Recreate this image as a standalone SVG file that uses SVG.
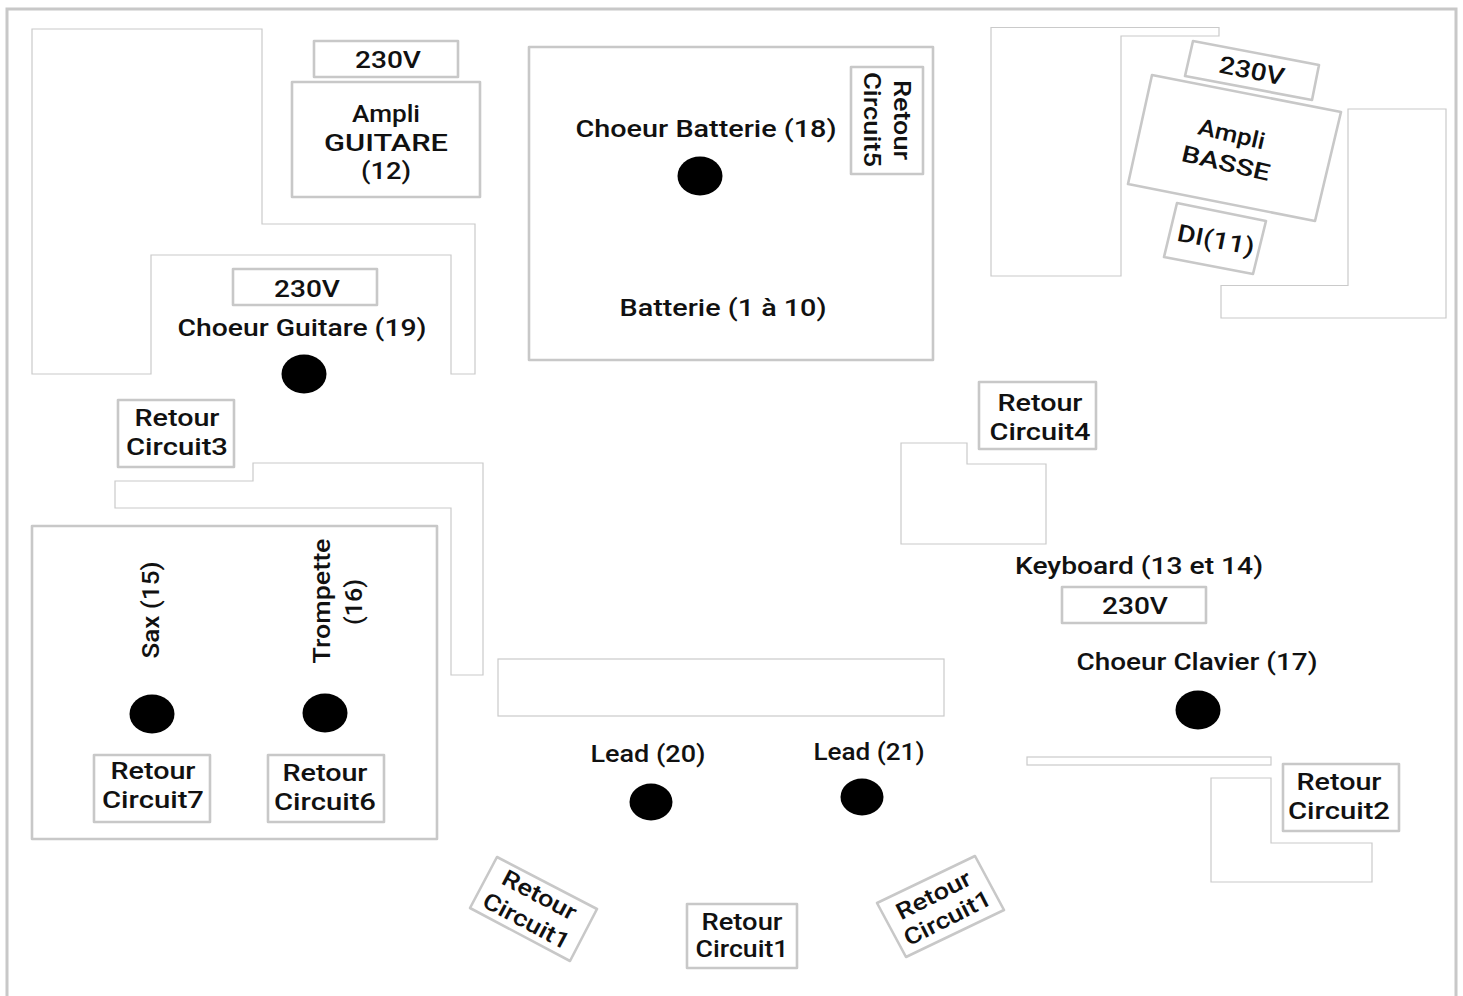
<svg xmlns="http://www.w3.org/2000/svg" width="1463" height="996" viewBox="0 0 1463 996">
<style>
.b{fill:#fff;stroke:#c8c8c8;stroke-width:2.600;stroke-linejoin:round}
.t{fill:none;stroke:#cacaca;stroke-width:1.200}
.d{fill:#000}
text{font-family:Roboto,"Liberation Sans",sans-serif;font-weight:500;font-size:24px;fill:#111;text-anchor:middle}
.s{font-size:23px}
</style>
<rect width="1463" height="996" fill="#fff"/>
<path d="M7 996V9H1456V996" fill="none" stroke="#c8c8c8" stroke-width="3"/>
<g id="walls">
<path class="t" d="M32 29H262V224H475V374H451V255H151V374H32Z"/>
<path class="t" d="M991 27.500H1219V36H1121V276H991Z"/>
<path class="t" d="M1348 109H1446V318H1221V285.500H1348Z"/>
<path class="t" d="M115 481H253V463H483V675H451V508H115Z"/>
<path class="t" d="M901 443H967V464H1046V544H901Z"/>
<rect class="t" x="498" y="659" width="446" height="57"/>
<rect class="t" x="1027" y="757" width="244" height="8"/>
<path class="t" d="M1211 778H1271V843H1372V882H1211Z"/>
</g>
<g id="connectors"></g>
<g id="n-230v-guitare"><rect class="b" x="314" y="41" width="144" height="36"/><text x="388" y="68" textLength="66" lengthAdjust="spacingAndGlyphs">230V</text></g>
<g id="n-ampli-guitare"><rect class="b" x="292" y="82" width="188" height="115"/><text x="386" y="122" textLength="68" lengthAdjust="spacingAndGlyphs">Ampli</text><text x="386" y="151" textLength="124" lengthAdjust="spacingAndGlyphs">GUITARE</text><text x="386" y="179" textLength="50" lengthAdjust="spacingAndGlyphs">(12)</text></g>
<g id="n-batterie"><rect class="b" x="529" y="47" width="404" height="313"/><text x="706" y="137" textLength="261" lengthAdjust="spacingAndGlyphs">Choeur Batterie (18)</text><ellipse class="d" cx="700" cy="176" rx="22.500" ry="19.500"/><text x="723" y="316" textLength="207" lengthAdjust="spacingAndGlyphs">Batterie (1 à 10)</text></g>
<g id="n-retour5"><rect class="b" x="851" y="67" width="72" height="107"/><text class="s" transform="translate(894 120) rotate(90)" textLength="80" lengthAdjust="spacingAndGlyphs">Retour</text><text class="s" transform="translate(864 119.500) rotate(90)" textLength="95" lengthAdjust="spacingAndGlyphs">Circuit5</text></g>
<g id="n-230v-basse"><polygon class="b" points="1193,41 1319,65 1312,100 1185,76"/><text transform="translate(1252 70) rotate(11.500)" y="9" textLength="66" lengthAdjust="spacingAndGlyphs">230V</text></g>
<g id="n-ampli-basse"><polygon class="b" points="1152,75 1341,112 1315,221 1128,184"/><text class="s" transform="translate(1232 133) rotate(13)" y="9" textLength="68" lengthAdjust="spacingAndGlyphs">Ampli</text><text class="s" transform="translate(1226 162) rotate(13)" y="9" textLength="90" lengthAdjust="spacingAndGlyphs">BASSE</text></g>
<g id="n-di"><polygon class="b" points="1177,203 1266,221 1253,274 1164,257"/><text transform="translate(1216 239) rotate(11)" y="9" textLength="78" lengthAdjust="spacingAndGlyphs">DI(11)</text></g>
<g id="n-230v-choeur-guitare"><rect class="b" x="233" y="269" width="144" height="36"/><text x="307" y="297" textLength="66" lengthAdjust="spacingAndGlyphs">230V</text></g>
<g id="n-choeur-guitare"><text x="302" y="336" textLength="249" lengthAdjust="spacingAndGlyphs">Choeur Guitare (19)</text><ellipse class="d" cx="304" cy="374" rx="22.500" ry="19.500"/></g>
<g id="n-retour3"><rect class="b" x="118" y="400" width="116" height="67"/><text x="177" y="426" textLength="85" lengthAdjust="spacingAndGlyphs">Retour</text><text x="177" y="455" textLength="102" lengthAdjust="spacingAndGlyphs">Circuit3</text></g>
<g id="n-cuivres"><rect class="b" x="32" y="526" width="405" height="313"/><text transform="translate(159 610) rotate(-90)" textLength="97" lengthAdjust="spacingAndGlyphs">Sax (15)</text><text transform="translate(330 601) rotate(-90)" textLength="125" lengthAdjust="spacingAndGlyphs">Trompette</text><text transform="translate(362 602) rotate(-90)" textLength="46" lengthAdjust="spacingAndGlyphs">(16)</text><ellipse class="d" cx="152" cy="714" rx="22.500" ry="19.500"/><ellipse class="d" cx="325" cy="713" rx="22.500" ry="19.500"/></g>
<g id="n-retour7"><rect class="b" x="94" y="755" width="116" height="67"/><text x="153" y="779" textLength="85" lengthAdjust="spacingAndGlyphs">Retour</text><text x="153" y="808" textLength="102" lengthAdjust="spacingAndGlyphs">Circuit7</text></g>
<g id="n-retour6"><rect class="b" x="268" y="755" width="116" height="67"/><text x="325" y="781" textLength="85" lengthAdjust="spacingAndGlyphs">Retour</text><text x="325" y="810" textLength="102" lengthAdjust="spacingAndGlyphs">Circuit6</text></g>
<g id="n-retour4"><rect class="b" x="979" y="382" width="117" height="67"/><text x="1040" y="411" textLength="85" lengthAdjust="spacingAndGlyphs">Retour</text><text x="1040" y="440" textLength="101" lengthAdjust="spacingAndGlyphs">Circuit4</text></g>
<g id="n-keyboard"><text x="1139" y="574" textLength="248" lengthAdjust="spacingAndGlyphs">Keyboard (13 et 14)</text></g>
<g id="n-230v-keyboard"><rect class="b" x="1062" y="587" width="144" height="36"/><text x="1135" y="614" textLength="66" lengthAdjust="spacingAndGlyphs">230V</text></g>
<g id="n-choeur-clavier"><text x="1197" y="670" textLength="241" lengthAdjust="spacingAndGlyphs">Choeur Clavier (17)</text><ellipse class="d" cx="1198" cy="710" rx="22.500" ry="19.500"/></g>
<g id="n-retour2"><rect class="b" x="1283" y="764" width="116" height="67"/><text x="1339" y="790" textLength="85" lengthAdjust="spacingAndGlyphs">Retour</text><text x="1339" y="819" textLength="102" lengthAdjust="spacingAndGlyphs">Circuit2</text></g>
<g id="n-lead20"><text x="648" y="762" textLength="115" lengthAdjust="spacingAndGlyphs">Lead (20)</text><ellipse class="d" cx="651" cy="802" rx="21.500" ry="18.500"/></g>
<g id="n-lead21"><text x="869" y="760" textLength="111" lengthAdjust="spacingAndGlyphs">Lead (21)</text><ellipse class="d" cx="862" cy="797" rx="21.500" ry="18.500"/></g>
<g id="n-retour1a"><polygon class="b" points="497,857 597,909 570,961 470,908"/><text class="s" transform="translate(540 894) rotate(28)" y="9" textLength="81" lengthAdjust="spacingAndGlyphs">Retour</text><text class="s" transform="translate(527 920) rotate(28)" y="9" textLength="95" lengthAdjust="spacingAndGlyphs">Circuit1</text></g>
<g id="n-retour1b"><rect class="b" x="687" y="904" width="110" height="64"/><text class="s" x="742" y="930" textLength="81" lengthAdjust="spacingAndGlyphs">Retour</text><text class="s" x="742" y="957" textLength="93" lengthAdjust="spacingAndGlyphs">Circuit1</text></g>
<g id="n-retour1c"><polygon class="b" points="975,856 1004,910 906,957 877,903"/><text class="s" transform="translate(933 894) rotate(-27)" y="9" textLength="81" lengthAdjust="spacingAndGlyphs">Retour</text><text class="s" transform="translate(947 917) rotate(-27)" y="9" textLength="95" lengthAdjust="spacingAndGlyphs">Circuit1</text></g>
</svg>
